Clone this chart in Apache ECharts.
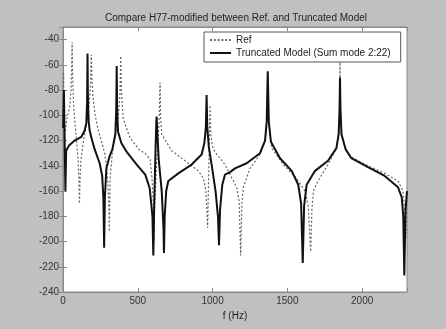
<!DOCTYPE html>
<html>
<head>
<meta charset="utf-8">
<script src="https://cdn.jsdelivr.net/npm/echarts@6/dist/echarts.min.js"></script>
<style>
html,body{margin:0;padding:0;background:#c0c0c0;}
#chart{width:446px;height:329px;}
</style>
</head>
<body>
<div id="chart"></div>
<script>
const chartTitle = 'Compare H77-modified between Ref. and Truncated Model';
const seriesNames = ['Ref', 'Truncated Model (Sum mode 2:22)'];
const xTicks = [0, 500, 1000, 1500, 2000];
const yTicks = [-240, -220, -200, -180, -160, -140, -120, -100, -80, -60, -40];

const refFreq = [0,4,8,14,25,45,54,58,61,64,70,78,90,100,106,110,114,120,140,160,175,184,189,193,200,215,234,260,279,295,305,310,315,330,350,370,380,386,390,403,448,515,550,582,595,604,608,612,625,640,646,649,652,660,727,816,905,940,955,962,967,972,978,983,988,1000,1016,1083,1117,1161,1178,1188,1196,1206,1250,1317,1350,1362,1369,1376,1395,1473,1562,1618,1640,1656,1664,1674,1705,1772,1828,1843,1849,1852,1856,1862,1890,1928,2039,2151,2240,2273,2285,2292,2297,2300];
const refDb = [-100,-66,-105,-115,-103,-93,-80,-60,-42,-65,-90,-103,-120,-133,-150,-170,-150,-135,-118,-105,-92,-75,-52,-70,-85,-100,-111,-122,-130,-145,-165,-192,-150,-130,-115,-100,-85,-53,-80,-103,-118,-128,-130,-135,-150,-170,-200,-175,-140,-110,-90,-74,-100,-115,-128,-136,-144,-150,-160,-175,-189,-160,-120,-92,-115,-125,-129,-139,-147,-157,-168,-211,-170,-157,-142,-131,-120,-105,-68,-105,-126,-139,-150,-160,-172,-208,-175,-160,-152,-139,-126,-115,-95,-58,-95,-115,-127,-133,-140,-146,-152,-160,-175,-198,-175,-165];

const truncFreq = [1,6,11,16,21,40,78,123,145,156,161,164,167,172,178,195,212,245,262,270,275,280,290,310,330,350,356,359,362,368,390,426,493,550,580,598,604,610,618,624,626,629,640,660,672,675,680,690,704,771,860,927,945,955,960,965,975,995,1020,1036,1043,1050,1065,1083,1117,1150,1228,1317,1351,1362,1369,1376,1390,1451,1529,1573,1592,1603,1612,1629,1685,1772,1828,1843,1849,1852,1855,1862,1890,1928,2039,2151,2240,2265,2275,2282,2290,2300];
const truncDb = [-110,-80,-120,-160,-128,-124,-120,-117,-112,-106,-90,-51,-90,-105,-112,-120,-127,-138,-148,-165,-205,-165,-142,-133,-127,-115,-95,-61,-95,-113,-122,-129,-139,-147,-158,-180,-211,-170,-130,-105,-101,-110,-135,-160,-190,-209,-180,-160,-152,-146,-139,-131,-122,-110,-84,-110,-125,-140,-160,-180,-203,-175,-155,-147,-145,-142,-138,-130,-120,-105,-65,-105,-121,-134,-144,-155,-170,-217,-172,-155,-144,-136,-126,-115,-95,-70,-95,-115,-127,-134,-141,-148,-157,-165,-180,-227,-175,-160];

const pair = (xs, ys) => xs.map((x, i) => [x, ys[i]]);

const chart = echarts.init(document.getElementById('chart'));
const font = 'Liberation Sans, Arial, sans-serif';
const frame = '#8a8a8a';
const common = {
  type: 'value',
  splitLine: { show: false },
  axisLine: { show: true, lineStyle: { color: frame, width: 1 } },
  axisTick: { show: true, inside: true, length: 4, lineStyle: { color: frame } }
};
const dottedIcon = 'path://M0,0h2v2h-2z M4,0h2v2h-2z M8,0h2v2h-2z M12,0h2v2h-2z M16,0h2v2h-2z M20,0h2v2h-2z';
chart.setOption({
  backgroundColor: '#c0c0c0',
  animation: false,
  title: {
    text: chartTitle,
    left: 100, top: 8,
    textStyle: { fontFamily: font, fontSize: 10, fontWeight: 'normal', color: '#222' }
  },
  grid: { left: 63, right: 39, top: 27, bottom: 37, show: true, backgroundColor: '#ffffff', borderColor: frame, borderWidth: 1 },
  legend: {
    data: [
      { name: seriesNames[0], icon: dottedIcon },
      { name: seriesNames[1], icon: 'rect' }
    ],
    orient: 'vertical',
    left: 204, top: 32,
    padding: [3, 10, 4, 6],
    itemGap: 3,
    itemWidth: 21, itemHeight: 2,
    backgroundColor: '#ffffff',
    borderColor: '#555', borderWidth: 1,
    textStyle: { fontFamily: font, fontSize: 10, color: '#222' }
  },
  xAxis: [
    Object.assign({}, common, {
      min: 0, max: 2300, interval: 500,
      name: 'f (Hz)', nameLocation: 'middle', nameGap: 19,
      nameTextStyle: { fontFamily: font, fontSize: 10, color: '#222' },
      axisLabel: { fontFamily: font, fontSize: 10, color: '#333', margin: 4,
        formatter: v => xTicks.indexOf(v) >= 0 ? String(v) : '' }
    }),
    Object.assign({}, common, { min: 0, max: 2300, interval: 500, position: 'top', axisLabel: { show: false } })
  ],
  yAxis: [
    Object.assign({}, common, {
      min: -240, max: -30, interval: 20,
      axisLabel: { fontFamily: font, fontSize: 10, color: '#333', margin: 4,
        formatter: v => yTicks.indexOf(v) >= 0 ? String(v) : '' }
    }),
    Object.assign({}, common, { min: -240, max: -30, interval: 20, position: 'right', axisLabel: { show: false } })
  ],
  series: [
    {
      name: seriesNames[0], type: 'line', symbol: 'none', z: 2,
      data: pair(refFreq, refDb),
      lineStyle: { color: '#666', width: 1.2, type: [2, 2] },
      itemStyle: { color: '#666' }
    },
    {
      name: seriesNames[1], type: 'line', symbol: 'none', z: 3,
      data: pair(truncFreq, truncDb),
      lineStyle: { color: '#111', width: 2 },
      itemStyle: { color: '#111' }
    }
  ]
});
</script>
</body>
</html>
